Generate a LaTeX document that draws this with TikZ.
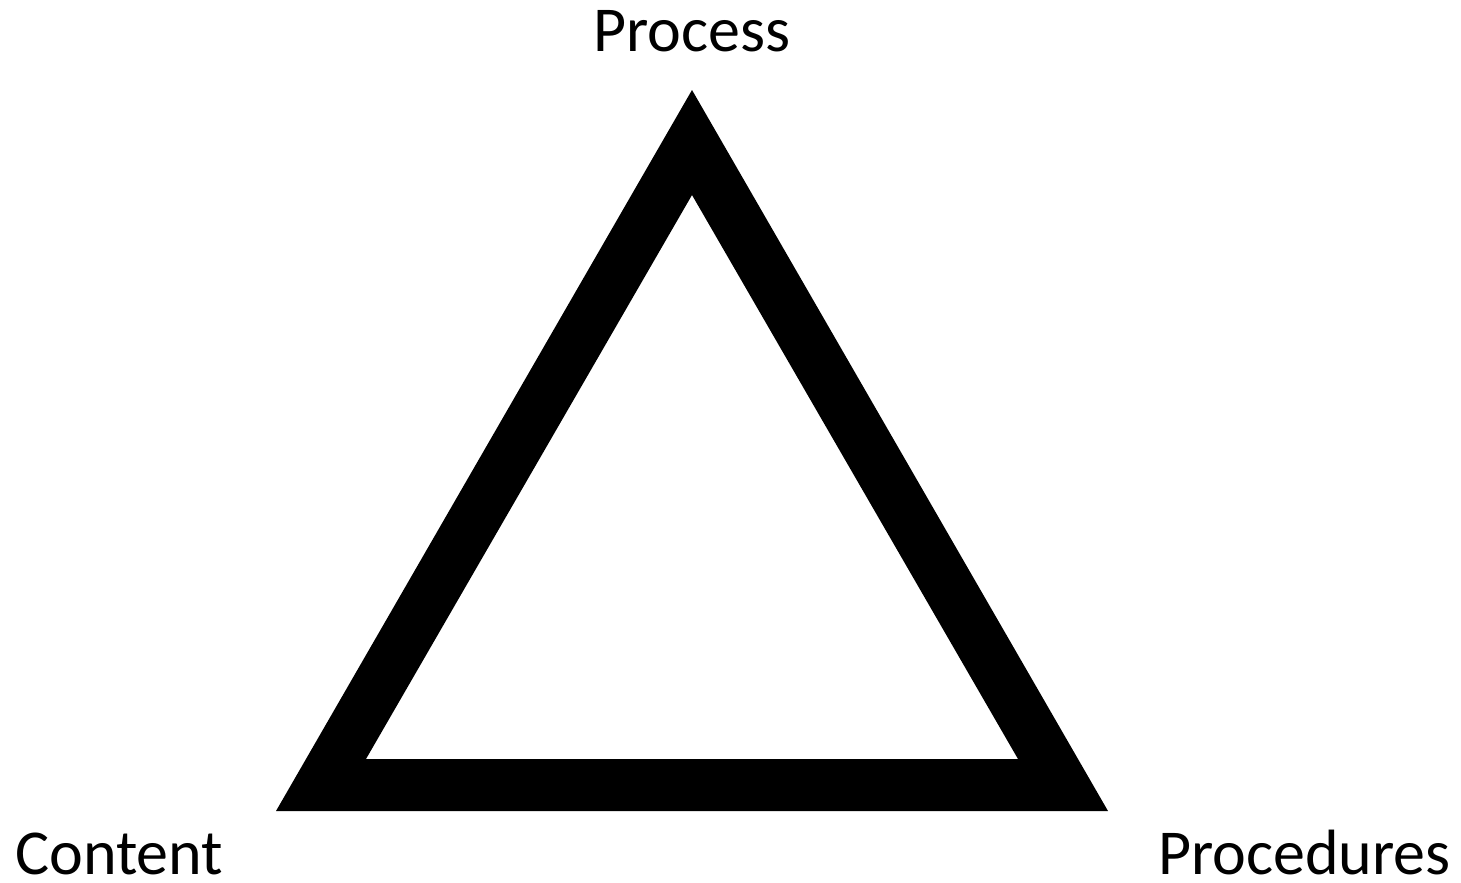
\documentclass[tikz,border=0pt]{standalone}
\usepackage{fontspec}
\setmainfont{Carlito}
\begin{document}
\begin{tikzpicture}[x=1pt,y=-1pt,
  lbl/.style={inner sep=0pt,font=\fontsize{64}{70}\selectfont}]
\useasboundingbox[fill=white] (0,0) rectangle (1461,883);
\fill[black,even odd rule] (692,90) -- (1108,811) -- (276,811) -- cycle
  (692,195) -- (1018,759) -- (366,759) -- cycle;
\node[lbl,anchor=base] (process) at (692,52) {Process};
\node[lbl,anchor=base west] (content) at (15,874) {Content};
\node[lbl,anchor=base east] (procedures) at (1451,874) {Procedures};
\end{tikzpicture}
\end{document}
